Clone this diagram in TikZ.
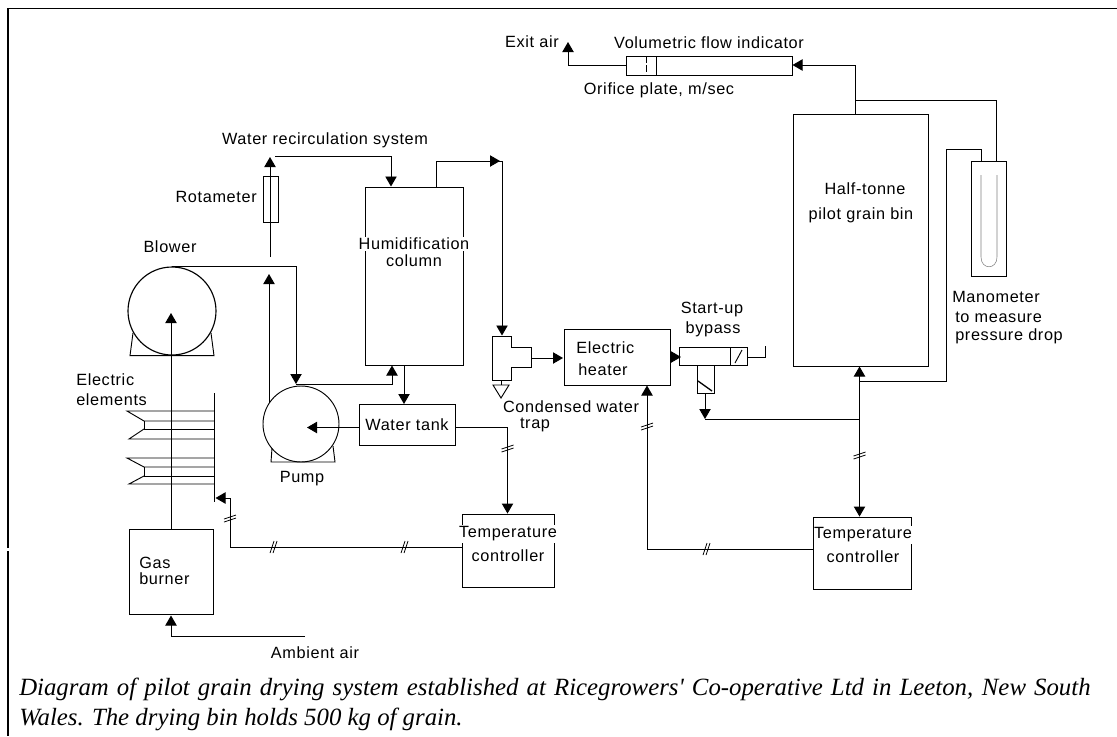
\documentclass[tikz,border=0pt]{standalone}
\usepackage{fontspec}
\setmainfont{Liberation Sans}[LetterSpace=4]
\newfontfamily\capfont{Liberation Serif}
\usetikzlibrary{arrows.meta}
\tikzset{
  x=0.75pt,y=-0.75pt,
  pipe/.style={line width=0.7pt,line join=miter},
  flow/.style={pipe,-{Triangle[length=7.5pt,width=8.5pt]}},
  vessel/.style={draw,line width=0.7pt,inner sep=0pt,minimum width=0pt},
  lbl/.style={font=\fontsize{12.2}{14}\selectfont,inner sep=0pt},
  lbll/.style={lbl,anchor=west},
  gap/.style={lbl,fill=white,inner xsep=1pt,inner ysep=1pt},
  tick/.pic={\draw[line width=0.6pt] (-6,2) -- (6,-2) (-6,5) -- (6,1);},
  vtick/.pic={\draw[line width=0.6pt] (-2,6) -- (2,-6) (-5,6) -- (-1,-6);}
}
\begin{document}
\begin{tikzpicture}
\useasboundingbox (0,0) rectangle (1117,736);
\fill[white] (0,0) rectangle (1117,736);
% frame
\coordinate (fa) at (8,548); \coordinate (fb) at (8,8.5); \coordinate (fc) at (1117,8.5);
\coordinate (fd) at (8,551); \coordinate (fe) at (8,736);
\draw[line width=1.2pt] (fa) -- (fb) -- (fc);
\draw[line width=0.9pt] (fd) -- (fe);

% blower
\draw[line width=0.85pt] (172,311) circle (44);
\draw[pipe] (133,333) -- (130,355.7) -- (214,355.7) -- (211,333);
% pump
\draw[line width=0.7pt] (301,424) circle (38);
\draw[pipe] (272,448) -- (271,462) -- (335,462) -- (333,446);

% electric elements
\coordinate (elt) at (214,393); \coordinate (elb) at (214,502);
\draw[pipe] (elt) -- (elb);
\draw[pipe] (214,411) -- (127,411) -- (144,421) -- (214,421);
\draw[pipe] (214,429) -- (144,429) -- (144,421);
\draw[pipe] (144,429) -- (129,439) -- (214,439);
\draw[pipe] (214,458) -- (127,458) -- (144,467) -- (214,467);
\draw[pipe] (214,476) -- (144,476) -- (144,467);
\draw[pipe] (144,476) -- (129,484) -- (214,484);

% boxes
\node[vessel,minimum width=63pt,minimum height=63.75pt] (burner) at (171,571.5) {};
\node[vessel,minimum width=73.5pt,minimum height=133.5pt] (column) at (414,276) {};
\node[vessel,minimum width=72pt,minimum height=30.75pt] (tank) at (407,424.5) {};
\node[vessel,minimum width=79.5pt,minimum height=42pt] (heater) at (617,357) {};
\node[vessel,minimum width=101.25pt,minimum height=189pt] (bin) at (860.5,240) {};
\node[vessel,minimum width=26.25pt,minimum height=86.25pt] (mano) at (988.5,218.5) {};
\node[vessel,minimum width=69pt,minimum height=54.75pt] (tc1) at (508,550.5) {};
\node[vessel,minimum width=73.5pt,minimum height=54pt] (tc2) at (862,553) {};
\node[vessel,minimum width=11.25pt,minimum height=34.5pt] (rota) at (270.5,199) {};
\node[vessel,minimum width=124.5pt,minimum height=14.25pt] (tube) at (709,65.5) {};

% manometer U
\draw[line width=0.4pt,gray] (981,175) -- (981,257) .. controls (981,270) and (997,270) .. (997,257) -- (997,175);

% orifice
\coordinate (oa) at (656,56); \coordinate (ob) at (656,75);
\draw[pipe] (oa) -- (ob);
\draw[pipe,dash pattern=on 5pt off 2pt] (646,56) -- (646,75);

% trap
\draw[pipe] (492,336) -- (511,336) -- (511,347) -- (531,347) -- (531,367) -- (511,367) -- (511,380) -- (492,380) -- cycle;
\draw[pipe] (501,380) -- (501,385);
\draw[pipe] (493,385) -- (509,385) -- (501,398) -- cycle;
\coordinate (trapout) at (531,358);

% bypass
\draw[pipe] (679,347) -- (747,347) -- (747,365) -- (714,365) -- (714,393) -- (697,393) -- (697,365) -- (679,365) -- cycle;
\draw[pipe] (730,347) -- (730,365);
\draw[pipe] (697,365) -- (714,365);
\draw[pipe] (735,363) -- (742,350);
\draw[line width=1pt] (698,381) -- (712,391);
\draw[pipe] (747,357) -- (765,357) -- (765,346);

% connectors
\coordinate (j1) at (296,266); \coordinate (j2) at (296,384);
\draw[flow] (burner.north -| 171,0) -- (171,313);
\draw[flow] (172,266) -- (j1) -- (j2);
\draw[flow] (j2) -- (392,384) -- (392,365.5);
\draw[flow] (269,403) -- (269,274);
\draw[flow] (270,257) -- (270,157);
\draw[flow] (275,156) -- (391,156) -- (391,186.5);
\coordinate (co) at (436,161); \coordinate (co2) at (502,161);
\draw[pipe] (436,187) -- (co) -- (co2);
\draw[flow] (436,161) -- (500,161);
\draw[flow] (co2) -- (502,335.5);
\draw[flow] (trapout) -- (563,358);
\draw[flow] (670,357) -- (681,357);
\draw[flow] (404,366) -- (404,404);
\draw[flow] (tank.west |- 0,427.5) -- (307,427.5);
\draw[flow] (tank.east |- 0,427.5) -- (507.5,427.5) -- (tc1.north -| 507.5,0);
\draw[pipe] (tc1.west |- 0,547) -- (230,547) -- (230,498);
\draw[flow] (230,498) -- (215.5,498);
\draw[flow] (705,393) -- (705,419);
\coordinate (j3) at (859.5,419);
\draw[pipe] (705,419) -- (j3);
\draw[flow] (859.5,381) -- (859.5,366.5);
\draw[flow] (859.5,381) -- (tc2.north -| 859.5,0);
\draw[pipe] (859.5,381) -- (946,381) -- (946,149) -- (981,149) -- (981,161.5);
\draw[flow] (tc2.west |- 0,549) -- (647,549) -- (647,385.5);
\coordinate (jt) at (855,100);
\draw[flow] (bin.north -| 855,0) -- (855,65) -- (792.5,65);
\draw[pipe] (jt) -- (996,100) -- (996,161.5);
\draw[flow] (tube.west) -- (568,65.5) -- (568,42);
\draw[flow] (171,636) -- (171,615.5);
\draw[pipe] (305,636) -- (171,636);

% break marks
\path (275,547) pic {vtick};
\path (406,547) pic {vtick};
\path (708,549) pic {vtick};
\path (230,517) pic {tick};
\path (507.5,447) pic {tick};
\path (647,425) pic {tick};
\path (859.5,454) pic {tick};

% labels
\node[lbl] (l1) at (532,42) {Exit air};
\node[lbl] (l2) at (709,43) {Volumetric flow indicator};
\node[lbl] (l3) at (659,90) {Orifice plate, m/sec};
\node[lbl] (l4) at (325,140) {Water recirculation system};
\node[lbl,anchor=east] (l5) at (257,197) {Rotameter};
\node[lbl] (l6) at (170,247) {Blower};
\node[gap] (l7) at (414,244) {Humidification};
\node[gap,fill=none] (l8) at (414,261) {column};
\node[lbll] (l9) at (76,380) {Electric};
\node[lbll] (l10) at (76,400) {elements};
\node[lbl] (l11) at (302,479) {Pump};
\node[lbl] (l12) at (407,425) {Water tank};
\node[lbl] (l13) at (571,407) {Condensed water};
\node[lbl] (l14) at (535,425) {trap};
\node[lbll] (l15) at (576,348) {Electric};
\node[lbll] (l16) at (578,370) {heater};
\node[lbl] (l17) at (712,310) {Start-up};
\node[lbl] (l18) at (713,329) {bypass};
\node[lbl] (l19) at (865,189) {Half-tonne};
\node[lbl] (l20) at (861,215) {pilot grain bin};
\node[lbll] (l21) at (952,297) {Manometer};
\node[lbll] (l22) at (955,317) {to measure};
\node[lbll] (l23) at (955,336) {pressure drop};
\node[lbll] (l24) at (139,563) {Gas};
\node[lbll] (l25) at (139,579) {burner};
\node[lbl] (l26) at (315,653) {Ambient air};
\node[gap,inner xsep=0pt] (l27) at (508,534) {Temperature};
\node[lbl] (l28) at (508,556) {controller};
\node[gap,inner xsep=0pt] (l29) at (863,535) {Temperature};
\node[lbl] (l30) at (863,557) {controller};
% caption
\node[anchor=north west,inner sep=0pt,text width=803.5pt,align=justify,font=\capfont\itshape\fontsize{18.6}{22.5}\selectfont] (cap) at (19,678) {Diagram of pilot grain drying system established at Ricegrowers' Co-operative Ltd in Leeton, New South\linebreak Wales. The drying bin holds 500 kg of grain.};
\end{tikzpicture}
\end{document}
